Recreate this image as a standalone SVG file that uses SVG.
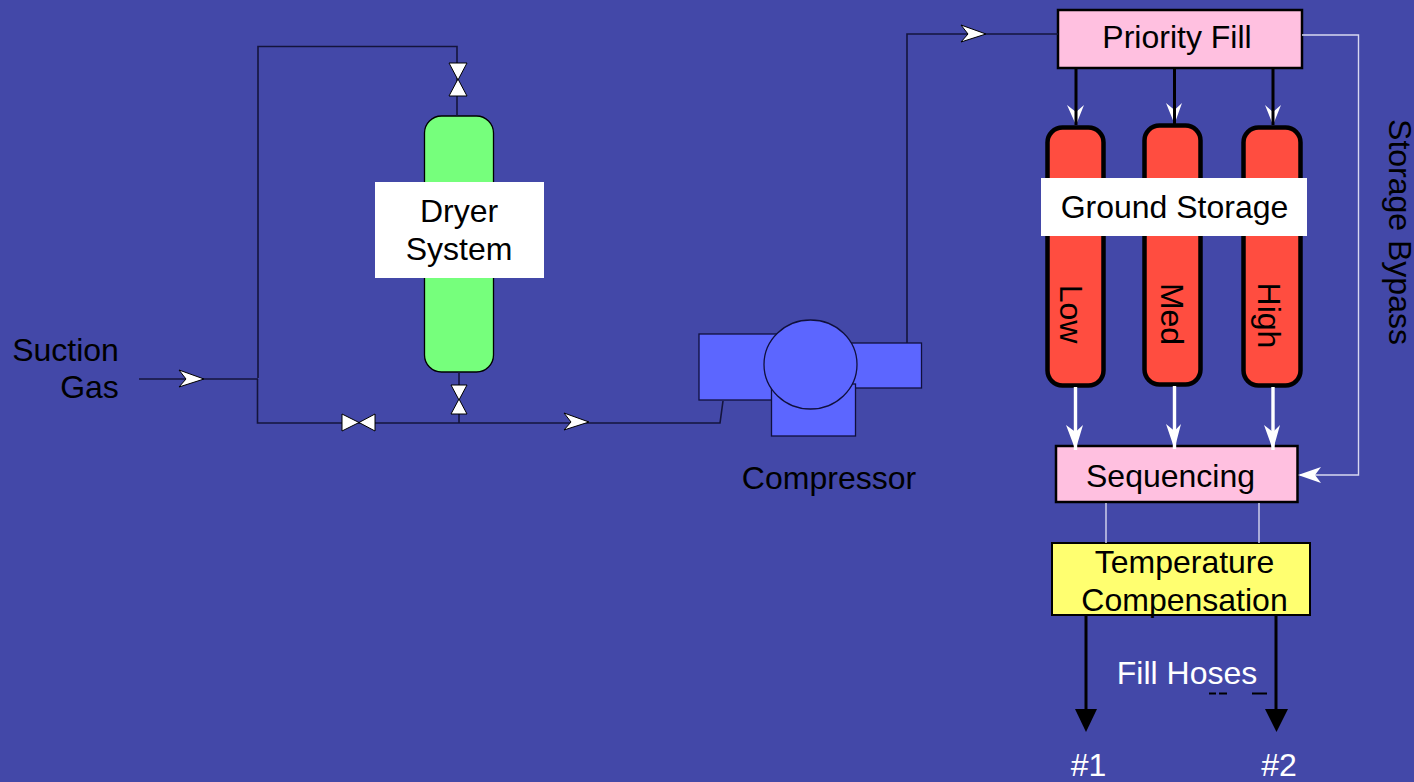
<svg xmlns="http://www.w3.org/2000/svg" width="1414" height="782" viewBox="0 0 1414 782">
<style>
text{font-family:"Liberation Sans",Arial,sans-serif;font-size:32px;fill:#000;text-anchor:middle}
.w{fill:#fff}
.thin{fill:none;stroke:#14143c;stroke-width:1.6}
.thick{fill:none;stroke:#000;stroke-width:3}
.wl{fill:none;stroke:#fff;stroke-width:3.4}
.gl{fill:none;stroke:#d8d8f0;stroke-width:1.4}
.ah{fill:#fff;stroke:#000;stroke-width:1}
.v{fill:#fff;stroke:#000;stroke-width:1}
.tank{fill:#ff4d40;stroke:#000;stroke-width:4.5}
.comp{fill:#5c66ff;stroke:#10103c;stroke-width:1.3}
.box{fill:#ffc0e0;stroke:#000;stroke-width:2.5}
</style>
<rect width="1414" height="782" fill="#4348a8"/>
<g id="dryer">
<rect x="424.500" y="116" width="69" height="256" rx="17" fill="#76ff7c" stroke="#000" stroke-width="1.3"/>
<rect x="375" y="182" width="169" height="96" fill="#fff"/>
<text x="459" y="222">Dryer</text>
<text x="459" y="260">System</text>
</g>
<g id="compressor">
<rect x="699" y="334" width="86" height="66" class="comp"/>
<rect x="850" y="343" width="71.500" height="45" class="comp"/>
<rect x="771.500" y="384" width="84" height="52" class="comp"/>
<ellipse cx="810.500" cy="364.500" rx="46.500" ry="44.500" class="comp"/>
<text x="829" y="489">Compressor</text>
</g>
<g id="priority-fill">
<rect x="1058" y="10" width="244" height="58" class="box"/>
<text x="1177" y="48">Priority Fill</text>
</g>
<g id="tank-low">
<rect x="1047.500" y="127.500" width="56" height="258" rx="15" class="tank"/>
</g>
<g id="tank-med">
<rect x="1144.500" y="125.500" width="56" height="259" rx="15" class="tank"/>
</g>
<g id="tank-high">
<rect x="1243.500" y="127.500" width="57" height="258" rx="15" class="tank"/>
</g>
<g id="ground-storage">
<rect x="1041" y="178" width="266" height="58" fill="#fff"/>
<text x="1174.500" y="218">Ground Storage</text>
</g>
<text transform="translate(1060 314) rotate(90)">Low</text>
<text transform="translate(1161 314) rotate(90)">Med</text>
<text transform="translate(1258 315.500) rotate(90)">High</text>
<text transform="translate(1389 232) rotate(90)">Storage Bypass</text>
<g id="sequencing">
<rect x="1056" y="446" width="241.500" height="56" class="box"/>
<text x="1170.500" y="487">Sequencing</text>
</g>
<g id="temperature-compensation">
<rect x="1052" y="543" width="258" height="72" fill="#ffff70" stroke="#000" stroke-width="2"/>
<text x="1184.500" y="573">Temperature</text>
<text x="1184.500" y="611">Compensation</text>
</g>
<text x="65.500" y="361">Suction</text>
<text x="89.500" y="398">Gas</text>
<text class="w" x="1187" y="684">Fill Hoses</text>
<text class="w" x="1088.500" y="776">#1</text>
<text class="w" x="1279" y="776">#2</text>
<g id="connectors">
<path class="thin" d="M139 379H258"/>
<path class="thin" d="M258 378V46.500H457V116"/>
<path class="thin" d="M257.500 379V423H720L723 401"/>
<path class="thin" d="M459 372V423"/>
<path class="thin" d="M907 343V34H1058"/>
<path class="gl" d="M1302 35H1358.500V475H1300"/>
<polygon points="1067,105 1076,125 1084,105 1076,112" fill="#fff"/>
<polygon points="1166,103 1174.500,124 1182,103 1174.500,110" fill="#fff"/>
<polygon points="1265,105 1273,125 1281,105 1273,112" fill="#fff"/>
<path class="thick" d="M1076 69V125M1174.500 69V124M1273 69V125"/>
<path class="wl" d="M1075.500 387V450M1174.500 386V449M1273 387V450"/>
<path class="gl" d="M1106 503V543M1259 503V543"/>
<path class="thick" d="M1086 615V712M1276 615V712"/>
<path d="M1209 693.500h7m3 0h8M1252 693.500h15" stroke="#000" stroke-width="2" fill="none"/>
<polygon class="ah" points="179,370 204,379 179,387 186,379"/>
<polygon class="ah" points="564,413 589,422 564,430 571,422"/>
<polygon class="ah" points="961,25 986,34 961,42 968,34"/>
<polygon points="1066,425 1075.500,450 1083,425 1075.500,432" fill="#fff"/>
<polygon points="1166,424 1174.500,449 1181,424 1174.500,431" fill="#fff"/>
<polygon points="1264,425 1273,450 1280,425 1273,432" fill="#fff"/>
<polygon points="1298,475 1321,467 1315,475 1321,483" fill="#fff"/>
<polygon points="1075,709 1097,709 1086,732" fill="#000"/>
<polygon points="1265,709 1288,709 1276.500,732" fill="#000"/>
<polygon class="v" points="449,63 467,63 458,80"/>
<polygon class="v" points="449,96 467,96 458,79"/>
<polygon class="v" points="451,385 467,385 459,400"/>
<polygon class="v" points="451,414 467,414 459,399"/>
<polygon class="v" points="342,414 342,431 359,422.500"/>
<polygon class="v" points="375,414 375,431 359,422.500"/>
</g>
</svg>
